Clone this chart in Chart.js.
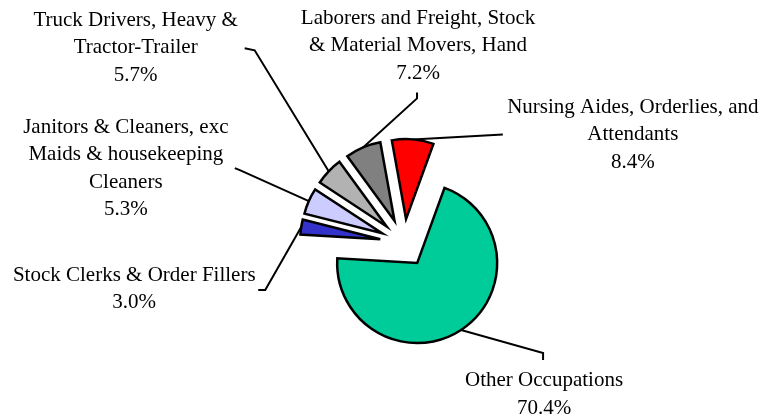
<!DOCTYPE html>
<html>
<head>
<meta charset="utf-8">
<script src="https://cdn.jsdelivr.net/npm/chart.js@4.4.0/dist/chart.umd.min.js"></script>
<style>
  html, body { margin: 0; padding: 0; background: #fff; }
  #wrap { width: 763px; height: 418px; }
</style>
</head>
<body>
<div id="wrap"><canvas id="occChart" width="763" height="418"></canvas></div>
<script>
  // slices, clockwise from the 20 degree start
  const categories = [
    ['Other Occupations'],
    ['Stock Clerks & Order Fillers'],
    ['Janitors & Cleaners, exc', 'Maids & housekeeping', 'Cleaners'],
    ['Truck Drivers, Heavy &', 'Tractor-Trailer'],
    ['Laborers and Freight, Stock', '& Material Movers, Hand'],
    ['Nursing Aides, Orderlies, and', 'Attendants']
  ];
  const shares = [70.4, 3.0, 5.3, 5.7, 7.2, 8.4];
  const sliceColors = ['#00CC99', '#3333CC', '#CCCCFF', '#B2B2B2', '#808080', '#FF0000'];

  const EXPLODE = 24;      // every slice pulled out from the centre
  const LINE_H = 27.5;
  const FONT = '21px "Liberation Serif", "Times New Roman", serif';

  // offsets from each slice's outer midpoint: leader bend, end stub, first text line centre
  const labelLayout = [
    { elbow: [82, 23], tick: [82, 30], text: [83, 51] },
    { elbow: [-36, 63], tick: [-43, 63], text: [-167, 48] },
    { elbow: [-69, -31], tick: [-74, -33], text: [-183, -74] },
    { elbow: [-74, -121], tick: [-84, -123], text: [-193, -151] },
    { elbow: [54, -49], tick: [54, -55], text: [55, -129] },
    { elbow: [90, -5], tick: [90, -5], text: [220, -32] }
  ];

  const explodePlugin = {
    id: 'explode',
    afterDatasetUpdate(chart, args) {
      args.meta.data.forEach(arc => {
        const mid = (arc.startAngle + arc.endAngle) / 2;
        arc.x += Math.cos(mid) * EXPLODE;
        arc.y += Math.sin(mid) * EXPLODE;
      });
    }
  };

  const labelPlugin = {
    id: 'sliceLabels',
    afterDatasetsDraw(chart) {
      const ctx = chart.ctx;
      const arcs = chart.getDatasetMeta(0).data;
      ctx.save();
      ctx.font = FONT;
      ctx.fillStyle = '#000';
      ctx.strokeStyle = '#000';
      ctx.lineWidth = 2;
      ctx.textAlign = 'center';
      ctx.textBaseline = 'middle';
      arcs.forEach((arc, i) => {
        const mid = (arc.startAngle + arc.endAngle) / 2;
        const ax = arc.x + Math.cos(mid) * arc.outerRadius;
        const ay = arc.y + Math.sin(mid) * arc.outerRadius;
        const lay = labelLayout[i];

        ctx.beginPath();
        ctx.moveTo(ax, ay);
        ctx.lineTo(ax + lay.elbow[0], ay + lay.elbow[1]);
        ctx.lineTo(ax + lay.tick[0], ay + lay.tick[1]);
        ctx.stroke();

        const lines = categories[i].concat([shares[i].toFixed(1) + '%']);
        lines.forEach((t, k) => {
          ctx.fillText(t, ax + lay.text[0], ay + lay.text[1] + k * LINE_H);
        });
      });
      ctx.restore();
    }
  };

  new Chart(document.getElementById('occChart'), {
    type: 'pie',
    data: {
      labels: categories,
      datasets: [{
        data: shares,
        backgroundColor: sliceColors,
        borderColor: '#000',
        borderWidth: 2.5,
        borderJoinStyle: 'miter',
        hoverOffset: 0,
        radius: 80
      }]
    },
    options: {
      responsive: false,
      animation: false,
      rotation: 20,
      layout: { padding: { left: 45, top: 68, right: 0, bottom: 0 } },
      plugins: {
        legend: { display: false },
        tooltip: { enabled: false }
      }
    },
    plugins: [explodePlugin, labelPlugin]
  });
</script>
</body>
</html>
